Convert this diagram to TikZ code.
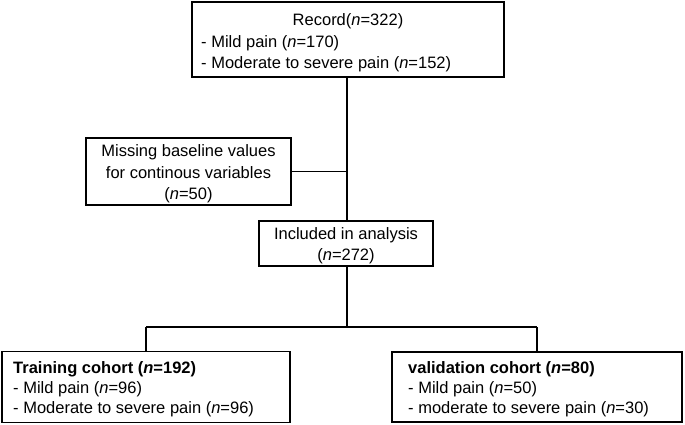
\documentclass[tikz,border=0pt]{standalone}
\usepackage{fontspec}
\setmainfont{Liberation Sans}
\begin{document}
\begin{tikzpicture}[x=1pt,y=-1pt,
  box/.style={draw=black,line width=1.3pt,inner sep=0pt},
  txt/.style={inner sep=0pt,font=\fontsize{16.5}{20}\selectfont},
  conn/.style={draw=black,line width=1.3pt}]
\useasboundingbox (0,0) rectangle (685,425);
% boxes
\node[box,minimum width=312,minimum height=75] (rec) at (348,39.5) {};
\node[box,minimum width=205,minimum height=67] (mis) at (188.5,171.5) {};
\node[box,minimum width=174,minimum height=45] (inc) at (346,243.5) {};
\node[box,minimum width=288,minimum height=71] (tr) at (146,387) {};
\node[box,minimum width=290,minimum height=70] (val) at (537,387) {};
% texts
\node[txt,anchor=base] (r1) at (348,26) {Record(\textit{n}=322)};
\node[txt,anchor=base west] (r2) at (201,47.5) {- Mild pain (\textit{n}=170)};
\node[txt,anchor=base west] (r3) at (201,69) {- Moderate to severe pain (\textit{n}=152)};
\node[txt,anchor=base] (m1) at (188.5,157) {Missing baseline values};
\node[txt,anchor=base] (m2) at (188.5,178) {for continous variables};
\node[txt,anchor=base] (m3) at (188.5,199) {(\textit{n}=50)};
\node[txt,anchor=base] (i1) at (346,239) {Included in analysis};
\node[txt,anchor=base] (i2) at (346,260) {(\textit{n}=272)};
\node[txt,anchor=base west] (t1) at (13,373) {\textbf{Training cohort (\textit{n}=192)}};
\node[txt,anchor=base west] (t2) at (13,393) {- Mild pain (\textit{n}=96)};
\node[txt,anchor=base west] (t3) at (13,413) {- Moderate to severe pain (\textit{n}=96)};
\node[txt,anchor=base west] (v1) at (408,373) {\textbf{validation cohort (\textit{n}=80)}};
\node[txt,anchor=base west] (v2) at (408,393) {- Mild pain (\textit{n}=50)};
\node[txt,anchor=base west] (v3) at (408,413) {- moderate to severe pain (\textit{n}=30)};
% connectors
\coordinate (top) at (347,77);
\coordinate (tl) at (146,327);
\coordinate (vl) at (537,327);
\draw[conn] (top) -- (top |- inc.north);
\draw[conn] (mis.east) -- (mis.east -| top);
\draw[conn] (inc.south -| top) -- (top |- tl);
\draw[conn] (tl) -- (vl);
\draw[conn] (tl) -- (tl |- tr.north);
\draw[conn] (vl) -- (vl |- val.north);
\end{tikzpicture}
\end{document}
